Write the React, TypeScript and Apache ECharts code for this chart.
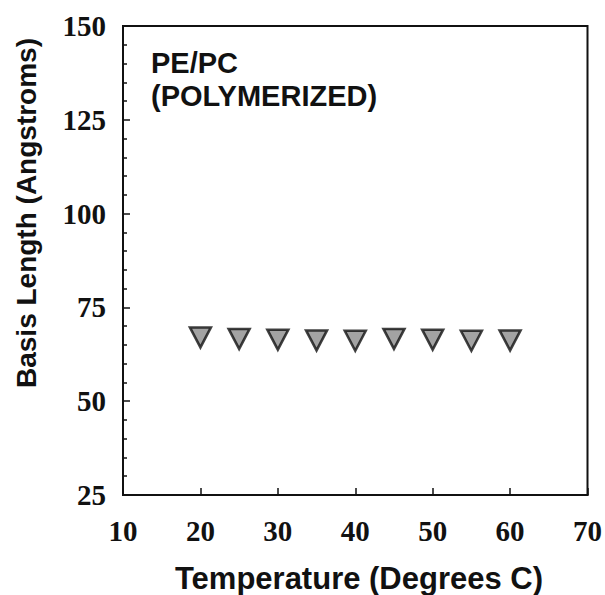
import React, { useEffect, useRef } from "react";
import * as echarts from "echarts";

const temperatures = [20, 25, 30, 35, 40, 45, 50, 55, 60];
const basisLength = [67.0, 66.6, 66.4, 66.2, 66.1, 66.6, 66.4, 66.1, 66.2];
const xTitle = "Temperature (Degrees C)";
const yTitle = "Basis Length (Angstroms)";
const annotation = ["PE/PC", "(POLYMERIZED)"];

export default function App() {
  const ref = useRef<HTMLDivElement>(null);
  useEffect(() => {
    if (!ref.current) return;
    const chart = echarts.init(ref.current, undefined, { renderer: "svg" });
    const serif = "'Liberation Serif', 'Times New Roman', serif";
    const sans = "'Liberation Sans', Arial, sans-serif";
    chart.setOption({
      animation: false,
      backgroundColor: "#fff",
      grid: {
        left: 123,
        right: 16,
        top: 26,
        bottom: 100,
        show: true,
        borderColor: "#111",
        borderWidth: 2,
        containLabel: false,
      },
      xAxis: {
        type: "value",
        min: 10,
        max: 70,
        interval: 10,
        axisLine: { show: true, lineStyle: { color: "#111", width: 2 } },
        axisTick: { show: true, inside: true, length: 7, lineStyle: { color: "#111", width: 1.5 } },
        splitLine: { show: false },
        axisLabel: {
          color: "#111",
          fontFamily: serif,
          fontWeight: "bold",
          fontSize: 29,
          margin: 21,
        },
      },
      yAxis: {
        type: "value",
        min: 25,
        max: 150,
        interval: 25,
        axisLine: { show: true, lineStyle: { color: "#111", width: 2 } },
        axisTick: { show: true, inside: true, length: 7, lineStyle: { color: "#111", width: 1.5 } },
        minorTick: { show: true, splitNumber: 5, length: 4, lineStyle: { color: "#111", width: 1.5 } },
        splitLine: { show: false },
        axisLabel: {
          color: "#111",
          fontFamily: serif,
          fontWeight: "bold",
          fontSize: 29,
          margin: 17,
        },
      },
      series: [
        {
          type: "scatter",
          data: temperatures.map((t, i) => [t, basisLength[i]]),
          symbol: "triangle",
          symbolRotate: 180,
          symbolSize: [21, 20],
          itemStyle: { color: "#8c8c8c", borderColor: "#111", borderWidth: 2.5 },
        },
      ],
      graphic: [
        {
          type: "text",
          left: 151,
          top: 46,
          style: {
            text: annotation.join("\n"),
            font: `bold 29px ${sans}`,
            fill: "#111",
            lineHeight: 33,
          },
        },
        {
          type: "text",
          x: 359,
          y: 578,
          style: {
            text: xTitle,
            font: `bold 31px ${sans}`,
            fill: "#111",
            align: "center",
            verticalAlign: "middle",
          },
        },
        {
          type: "text",
          x: 26,
          y: 213,
          rotation: Math.PI / 2,
          style: {
            text: yTitle,
            font: `bold 28px ${sans}`,
            fill: "#111",
            align: "center",
            verticalAlign: "middle",
          },
        },
      ],
    });
    return () => chart.dispose();
  }, []);
  return (
    <div
      ref={ref}
      style={{ position: "fixed", left: 0, top: 0, width: 605, height: 595 }}
    />
  );
}
